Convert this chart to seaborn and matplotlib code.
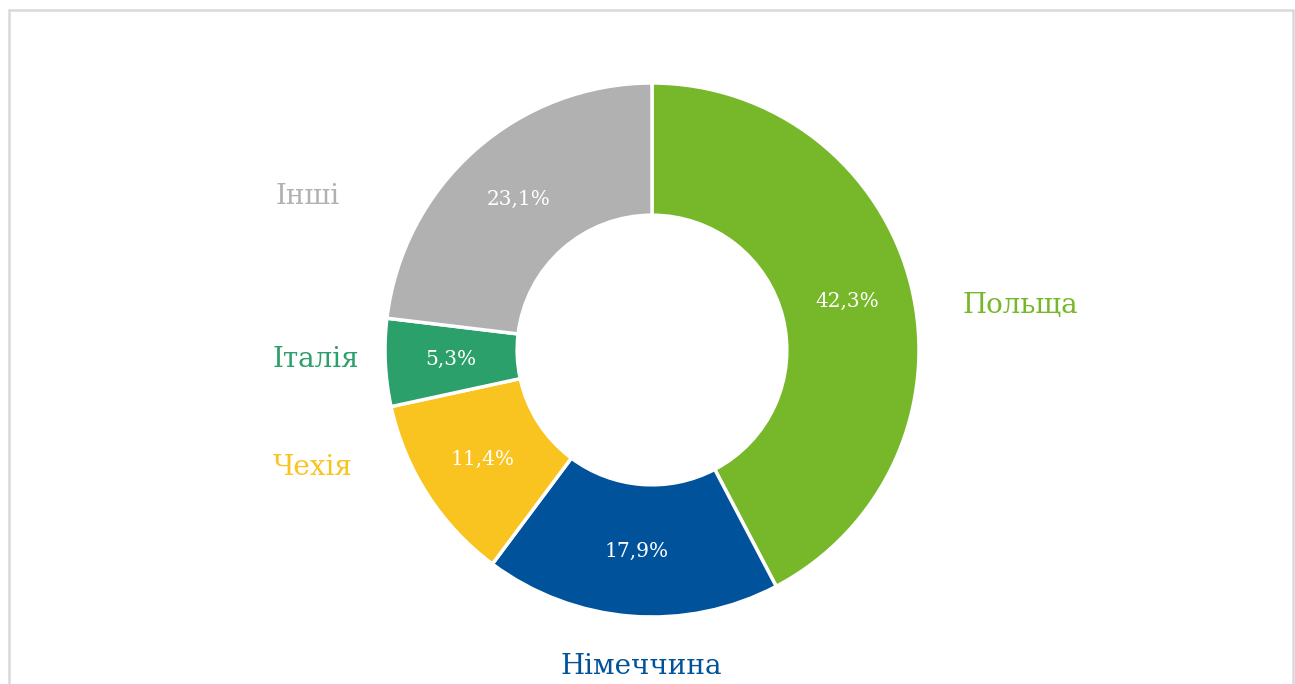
import matplotlib
matplotlib.use("Agg")
import matplotlib.pyplot as plt
from matplotlib.patches import Rectangle
import numpy as np
import seaborn as sns

# Data
countries = ["Польща", "Німеччина", "Чехія", "Італія", "Інші"]
shares = [42.3, 17.9, 11.4, 5.3, 23.1]
pct_labels = ["42,3%", "17,9%", "11,4%", "5,3%", "23,1%"]
colors_hex = ["#76b82a", "#00529b", "#f9c320", "#2ca06a", "#b1b1b1"]

# Outer label positions (in pie-radius units, relative to centre)
label_pos = [(1.38, 0.165), (-0.04, -1.185), (-1.27, -0.44), (-1.26, -0.035), (-1.29, 0.575)]

sns.set_theme(style="white")
plt.rcParams["font.family"] = ["DejaVu Serif"]

W, H = 1295, 684
R = 267.0
cx, cy = 652.0, 350.0

fig = plt.figure(figsize=(W / 100, H / 100), dpi=100)
fig.patch.set_facecolor("white")
ax = fig.add_axes([0, 0, 1, 1])
ax.axis("off")

palette = sns.color_palette(colors_hex)

wedges, _ = ax.pie(
    shares,
    colors=palette,
    startangle=90,
    counterclock=False,
    radius=1.0,
    wedgeprops=dict(width=0.495, edgecolor="white", linewidth=2.5),
)
ax.set_aspect("equal")
ax.set_xlim(-cx / R, (W - cx) / R)
ax.set_ylim(-(H - cy) / R, cy / R)

for w, txt in zip(wedges, pct_labels):
    ang = np.deg2rad((w.theta1 + w.theta2) / 2)
    r = 0.755
    ax.text(r * np.cos(ang), r * np.sin(ang), txt, ha="center", va="center",
            color="white", fontsize=14.5)

for (x, y), name, c in zip(label_pos, countries, palette):
    ax.text(x, y, name, ha="center", va="center", color=c, fontsize=20)

# Frame
fig.patches.append(Rectangle((9 / W, -0.05), (1293 - 9) / W, 1.05 - 10 / H,
                             transform=fig.transFigure, fill=False,
                             edgecolor="#d9d9d9", linewidth=1.8))

fig.savefig("out.png", dpi=100, facecolor="white")
